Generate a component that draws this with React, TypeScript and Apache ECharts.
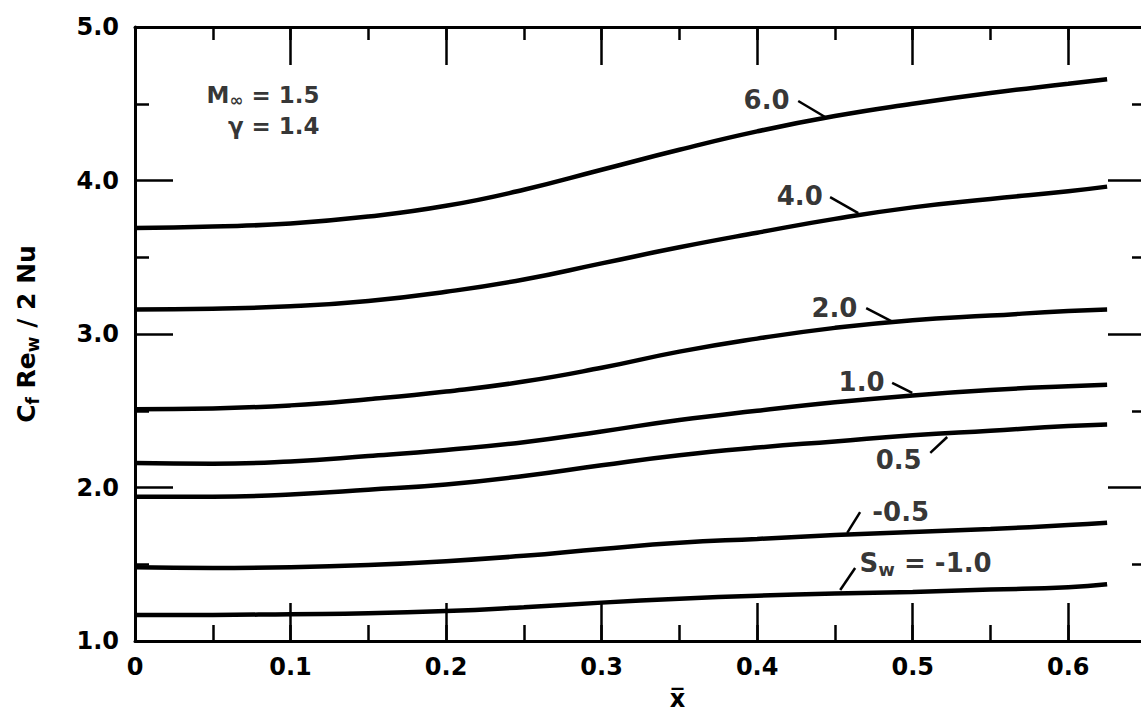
import React, { useEffect, useRef } from 'react';
import * as echarts from 'echarts';

// x̄ sample positions
const xValues = [0, 0.05, 0.1, 0.15, 0.2, 0.25, 0.3, 0.35, 0.4, 0.45, 0.5, 0.55, 0.6, 0.625];

// Cf Re_w / 2 Nu for each S_w
const curveSw6 = [3.69, 3.7, 3.72, 3.765, 3.835, 3.94, 4.07, 4.2, 4.32, 4.42, 4.5, 4.57, 4.63, 4.66];
const curveSw4 = [3.16, 3.165, 3.18, 3.215, 3.275, 3.355, 3.46, 3.565, 3.66, 3.75, 3.825, 3.88, 3.93, 3.96];
const curveSw2 = [2.51, 2.515, 2.535, 2.575, 2.625, 2.69, 2.78, 2.885, 2.97, 3.04, 3.09, 3.12, 3.15, 3.16];
const curveSw1 = [2.16, 2.155, 2.17, 2.205, 2.245, 2.295, 2.365, 2.44, 2.5, 2.555, 2.6, 2.635, 2.66, 2.67];
const curveSw05 = [1.94, 1.94, 1.955, 1.985, 2.02, 2.075, 2.145, 2.21, 2.26, 2.3, 2.34, 2.37, 2.4, 2.41];
const curveSwM05 = [1.48, 1.475, 1.48, 1.495, 1.52, 1.555, 1.6, 1.64, 1.665, 1.69, 1.71, 1.73, 1.755, 1.77];
const curveSwM1 = [1.17, 1.17, 1.175, 1.18, 1.195, 1.22, 1.25, 1.275, 1.295, 1.31, 1.32, 1.335, 1.35, 1.37];

const curves = [curveSw6, curveSw4, curveSw2, curveSw1, curveSw05, curveSwM05, curveSwM1];

// curve labels (text, anchor in data coords, alignment)
const labelTexts = ['6.0', '4.0', '2.0', '1.0', '0.5', '-0.5', '{a|S}{s|w}{a| = -1.0}'];
const labelX = [0.4064, 0.4277, 0.45, 0.4675, 0.4913, 0.4926, 0.4662];
const labelY = [4.524, 3.899, 3.169, 2.687, 2.179, 1.834, 1.502];
const labelAlign = ['center', 'center', 'center', 'center', 'center', 'center', 'left'];

// leader lines from labels to curves
const leaderStart = [
  [0.4264, 4.518], [0.4469, 3.892], [0.4701, 3.169], [0.4868, 2.681],
  [0.5113, 2.225], [0.4662, 1.84], [0.463, 1.476],
];
const leaderEnd = [
  [0.4437, 4.414], [0.465, 3.788], [0.4875, 3.078], [0.4997, 2.616],
  [0.5222, 2.329], [0.4579, 1.704], [0.4534, 1.332],
];

// parameter annotation
const paramTexts = ['{a|M}{s|∞}{a| = 1.5}', '{a|γ = 1.4}'];
const paramX = [0.119, 0.119];
const paramY = [4.557, 4.349];

const FONT = 'DejaVu Sans';

export default function App() {
  const ref = useRef<HTMLDivElement>(null);
  useEffect(() => {
    if (!ref.current) return;
    const chart = echarts.init(ref.current, undefined, { renderer: 'svg' });
    const black = '#000';
    const labelStyle = { fontFamily: FONT, fontWeight: 'bold', fontSize: 24, color: black };
    const xFmt = (v: number) => {
      if (Math.abs(v * 10 - Math.round(v * 10)) > 1e-6) return '';
      return v === 0 ? '0' : String(Math.round(v * 10) / 10);
    };
    const xBase = { type: 'value', min: 0, max: 0.65, gridIndex: 0, splitLine: { show: false } };
    const yBase = { type: 'value', min: 1, max: 5, interval: 1, splitLine: { show: false } };
    const rich = {
      a: { fontFamily: FONT, fontWeight: 'bold', fontSize: 26, color: black, lineHeight: 30 },
      s: { fontFamily: FONT, fontWeight: 'bold', fontSize: 18, color: black, lineHeight: 18, verticalAlign: 'bottom' },
    };
    const seriesLines = curves.map((c, i) => ({
      type: 'line',
      name: 'Sw ' + i,
      xAxisIndex: 0,
      yAxisIndex: 0,
      data: c.map((v, j) => [xValues[j], v]),
      smooth: 0.5,
      showSymbol: false,
      symbol: 'none',
      lineStyle: { color: black, width: 4.5 },
      z: 3,
    }));
    const option = {
      animation: false,
      backgroundColor: '#fff',
      grid: { left: 135, top: 27, width: 1011, height: 614, outerBoundsMode: 'none', containLabel: false },
      xAxis: [
        {
          ...xBase, position: 'bottom', interval: 0.1,
          axisLine: { show: true, onZero: false, lineStyle: { color: black, width: 3 } },
          axisTick: { show: true, inside: true, length: 38, lineStyle: { color: black, width: 2.5 } },
          axisLabel: { ...labelStyle, margin: 14, formatter: xFmt },
          name: 'x\u0305',
          nameLocation: 'middle',
          nameGap: 46,
          nameMoveOverlap: false,
          nameTextStyle: { fontFamily: FONT, fontWeight: 'bold', fontSize: 24, color: black, padding: [0, 0, 0, 74] },
        },
        {
          ...xBase, position: 'bottom', interval: 0.05,
          axisLine: { show: false, onZero: false },
          axisTick: { show: true, inside: true, length: 16, lineStyle: { color: black, width: 2.5 } },
          axisLabel: { show: false },
        },
        {
          ...xBase, position: 'top', interval: 0.1,
          axisLine: { show: true, onZero: false, lineStyle: { color: black, width: 3 } },
          axisTick: { show: true, inside: true, length: 38, lineStyle: { color: black, width: 2.5 } },
          axisLabel: { show: false },
        },
        {
          ...xBase, position: 'top', interval: 0.05,
          axisLine: { show: false, onZero: false },
          axisTick: { show: true, inside: true, length: 13, lineStyle: { color: black, width: 2.5 } },
          axisLabel: { show: false },
        },
      ],
      yAxis: [
        {
          ...yBase, position: 'left',
          axisLine: { show: true, onZero: false, lineStyle: { color: black, width: 3 } },
          axisTick: { show: true, inside: true, length: 38, lineStyle: { color: black, width: 2.5 } },
          minorTick: { show: true, splitNumber: 2, length: 14, lineStyle: { color: black, width: 2.5 } },
          minorSplitLine: { show: false },
          axisLabel: { ...labelStyle, margin: 16, formatter: (v: number) => v.toFixed(1) },
          name: '{a|C}{s|f}{a| Re}{s|w}{a| / 2 Nu}',
          nameLocation: 'middle',
          nameGap: 94,
          nameMoveOverlap: false,
          nameTextStyle: {
            rich: {
              a: { fontFamily: FONT, fontWeight: 'bold', fontSize: 25, color: black, lineHeight: 30 },
              s: { fontFamily: FONT, fontWeight: 'bold', fontSize: 17, color: black, lineHeight: 17, verticalAlign: 'bottom' },
            },
          },
        },
        {
          ...yBase, position: 'right',
          axisLine: { show: true, onZero: false, lineStyle: { color: black, width: 3 } },
          axisTick: { show: true, inside: true, length: 38, lineStyle: { color: black, width: 2.5 } },
          minorTick: { show: true, splitNumber: 2, length: 14, lineStyle: { color: black, width: 2.5 } },
          minorSplitLine: { show: false },
          axisLabel: { show: false },
        },
      ],
      series: [
        ...seriesLines,
        {
          type: 'scatter',
          name: 'curve labels',
          xAxisIndex: 0,
          yAxisIndex: 0,
          symbolSize: 1,
          itemStyle: { color: 'rgba(0,0,0,0)' },
          clip: false,
          silent: true,
          z: 5,
          data: labelTexts.map((t, i) => ({
            value: [labelX[i], labelY[i]],
            label: {
              show: true,
              position: [0, 0],
              align: labelAlign[i],
              verticalAlign: 'middle',
              formatter: t,
              fontFamily: FONT,
              fontWeight: 'bold',
              fontSize: 26,
              color: black,
              rich,
            },
          })),
          markLine: {
            silent: true,
            symbol: ['none', 'none'],
            label: { show: false },
            lineStyle: { color: black, width: 2.5, type: 'solid' },
            data: leaderStart.map((s, i) => [{ coord: s }, { coord: leaderEnd[i] }]),
          },
        },
        {
          type: 'scatter',
          name: 'parameters',
          xAxisIndex: 0,
          yAxisIndex: 0,
          symbolSize: 1,
          itemStyle: { color: 'rgba(0,0,0,0)' },
          clip: false,
          silent: true,
          z: 5,
          data: paramTexts.map((t, i) => ({
            value: [paramX[i], paramY[i]],
            label: {
              show: true,
              position: [0, 0],
              align: 'right',
              verticalAlign: 'middle',
              formatter: t,
              rich: {
                a: { fontFamily: FONT, fontWeight: 'bold', fontSize: 23, color: black, lineHeight: 28 },
                s: { fontFamily: FONT, fontWeight: 'bold', fontSize: 17, color: black, lineHeight: 17, verticalAlign: 'bottom' },
              },
            },
          })),
        },
      ],
    };
    chart.setOption(option as any);
    return () => chart.dispose();
  }, []);
  return (
    <div
      ref={ref}
      style={{ position: 'absolute', left: 0, top: 0, width: 1141, height: 720, background: '#fff' }}
    />
  );
}
